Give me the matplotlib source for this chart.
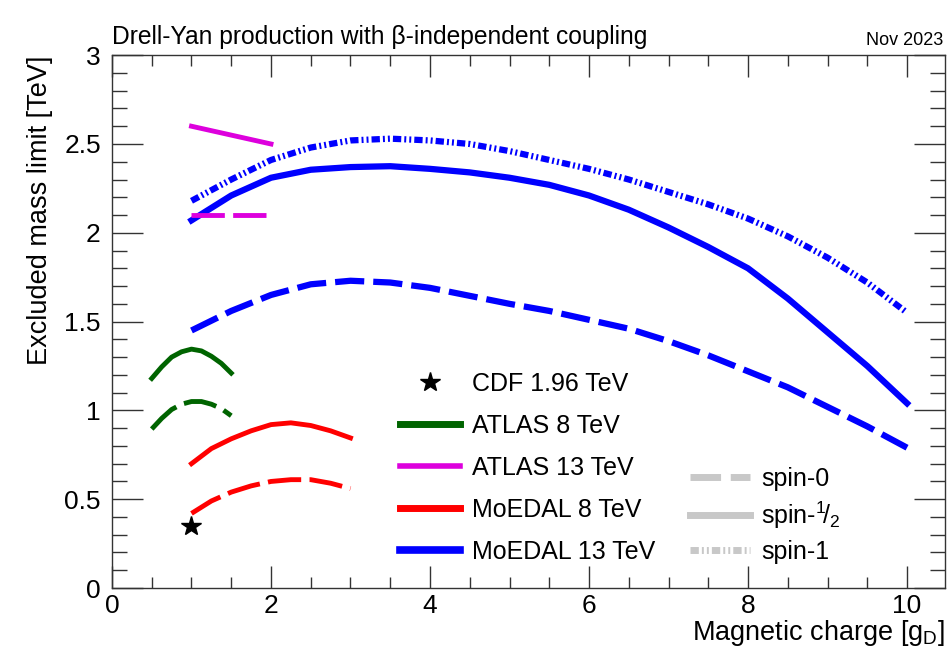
import matplotlib
matplotlib.use("Agg")
import matplotlib.pyplot as plt
from matplotlib.lines import Line2D
from matplotlib.ticker import MultipleLocator

plt.rcParams['font.family'] = ['Liberation Sans', 'DejaVu Sans']
plt.rcParams['mathtext.fontset'] = 'custom'
plt.rcParams['mathtext.rm'] = 'Liberation Sans'
plt.rcParams['mathtext.it'] = 'Liberation Sans'
plt.rcParams['lines.scale_dashes'] = False

# ---------------- data ----------------
# MoEDAL 13 TeV
moedal13_x = [1.0, 1.5, 2.0, 2.5, 3.0, 3.5, 4.0, 4.5, 5.0, 5.5, 6.0, 6.5, 7.0, 7.5, 8.0, 8.5, 9.0, 9.5, 10.0]
moedal13_s0 = [1.45, 1.56, 1.65, 1.71, 1.73, 1.72, 1.69, 1.645, 1.60, 1.56, 1.51, 1.46, 1.39, 1.31, 1.22, 1.13, 1.02, 0.91, 0.79]
moedal13_s12 = [2.07, 2.21, 2.31, 2.355, 2.37, 2.375, 2.36, 2.34, 2.31, 2.27, 2.21, 2.13, 2.03, 1.92, 1.80, 1.63, 1.44, 1.25, 1.04]
moedal13_s1 = [2.18, 2.30, 2.41, 2.48, 2.52, 2.53, 2.52, 2.50, 2.46, 2.41, 2.36, 2.30, 2.23, 2.16, 2.08, 1.98, 1.86, 1.72, 1.55]

# MoEDAL 8 TeV
moedal8_x = [1.0, 1.25, 1.5, 1.75, 2.0, 2.25, 2.5, 2.75, 3.0]
moedal8_s0 = [0.42, 0.49, 0.54, 0.575, 0.60, 0.61, 0.61, 0.59, 0.56]
moedal8_s12 = [0.70, 0.785, 0.84, 0.885, 0.92, 0.93, 0.915, 0.885, 0.845]

# ATLAS 8 TeV
atlas8_x = [0.5, 0.625, 0.75, 0.875, 1.0, 1.125, 1.25, 1.375, 1.5]
atlas8_s0 = [0.895, 0.955, 1.005, 1.035, 1.05, 1.05, 1.035, 1.01, 0.97]
atlas8_s12 = [1.18, 1.245, 1.30, 1.33, 1.345, 1.335, 1.305, 1.265, 1.21]

# ATLAS 13 TeV
atlas13_x = [1.0, 2.0]
atlas13_s0 = [2.10, 2.10]
atlas13_s12 = [2.60, 2.50]

# CDF 1.96 TeV
cdf_x = [1.0]
cdf_y = [0.35]

legend_labels = ["CDF 1.96 TeV", "ATLAS 8 TeV", "ATLAS 13 TeV", "MoEDAL 8 TeV", "MoEDAL 13 TeV"]
spin_labels = ["spin-0", "spin-$^{1}\\!/_{2}$", "spin-1"]

# ---------------- style ----------------
GREEN = '#006400'
MAGENTA = '#dd00dd'
RED = '#ff0000'
BLUE = '#0000ff'
DASH = (0, (24, 6))
DASH_B = (0, (21, 6.5))
DASHDOT3 = (0, (6, 2.2, 1.4, 2.2, 1.4, 2.2))

fig = plt.figure(figsize=(9.49, 6.57), dpi=100)
ax = fig.add_axes([0.118, 0.105, 0.878, 0.811])

lw_b = 4.5
lw_o = 3.5
ax.plot(moedal13_x, moedal13_s0, color=BLUE, lw=lw_b, ls=DASH_B)
ax.plot(moedal13_x, moedal13_s12, color=BLUE, lw=lw_b, ls='-')
ax.plot(moedal13_x, moedal13_s1, color=BLUE, lw=lw_b, ls=DASHDOT3)
ax.plot(moedal8_x, moedal8_s0, color=RED, lw=lw_o, ls=DASH)
ax.plot(moedal8_x, moedal8_s12, color=RED, lw=lw_o, ls='-')
ax.plot(atlas8_x, atlas8_s0, color=GREEN, lw=lw_o, ls=DASH)
ax.plot(atlas8_x, atlas8_s12, color=GREEN, lw=lw_o, ls='-')
ax.plot(atlas13_x, atlas13_s0, color=MAGENTA, lw=lw_o, ls=DASH)
ax.plot(atlas13_x, atlas13_s12, color=MAGENTA, lw=lw_o, ls='-')
ax.plot(cdf_x, cdf_y, ls='none', marker='*', color='black', markersize=15)

ax.set_xlim(0, 10.48)
ax.set_ylim(0, 3)
ax.xaxis.set_major_locator(MultipleLocator(2))
ax.xaxis.set_minor_locator(MultipleLocator(0.5))
ax.yaxis.set_major_locator(MultipleLocator(0.5))
ax.yaxis.set_minor_locator(MultipleLocator(0.1))
ax.xaxis.set_major_formatter(plt.FuncFormatter(lambda v, p: f"{v:g}"))
ax.yaxis.set_major_formatter(plt.FuncFormatter(lambda v, p: f"{v:g}"))
ax.tick_params(which='both', direction='in', top=True, right=True, colors='#333333',
               labelcolor='black', labelsize=19, width=1.0)
ax.tick_params(which='major', length=16)
ax.tick_params(which='minor', length=8)
ax.tick_params(axis='x', which='major', pad=4)
ax.tick_params(axis='y', which='major', length=22, pad=8)
ax.tick_params(axis='y', which='minor', length=11)
for s in ax.spines.values():
    s.set_color('#333333')
    s.set_linewidth(1.0)

ax.set_xlabel("Magnetic charge [g$_{\\mathrm{D}}$]", fontsize=19.5, loc='right', labelpad=0)
ax.set_ylabel("Excluded mass limit [TeV]", fontsize=19.5, loc='top', labelpad=8)

fig.text(0.118, 0.925, "Drell-Yan production with \u03b2-independent coupling", fontsize=17.7,
         ha='left', va='bottom')
fig.text(0.994, 0.925, "Nov 2023", fontsize=13, ha='right', va='bottom')

handles1 = [
    Line2D([], [], ls='none', marker='*', color='black', markersize=15),
    Line2D([], [], color=GREEN, lw=5),
    Line2D([], [], color=MAGENTA, lw=4),
    Line2D([], [], color=RED, lw=5),
    Line2D([], [], color=BLUE, lw=5.5),
]
leg1 = ax.legend(handles1, legend_labels, loc='upper left', bbox_to_anchor=(0.346, 0.405),
                 frameon=False, fontsize=18, handlelength=2.4, handletextpad=0.48,
                 labelspacing=0.72, borderpad=0, borderaxespad=0)
ax.add_artist(leg1)

GRAY = '#c8c8c8'
handles2 = [
    Line2D([], [], color=GRAY, lw=5, ls=(0, (22, 7))),
    Line2D([], [], color=GRAY, lw=5, ls='-'),
    Line2D([], [], color=GRAY, lw=5, ls=DASHDOT3),
]
leg2 = ax.legend(handles2, spin_labels, loc='upper left', bbox_to_anchor=(0.694, 0.227),
                 frameon=False, fontsize=18, handlelength=2.4, handletextpad=0.45,
                 labelspacing=0.35, borderpad=0, borderaxespad=0)

fig.savefig("out.png", dpi=100)
